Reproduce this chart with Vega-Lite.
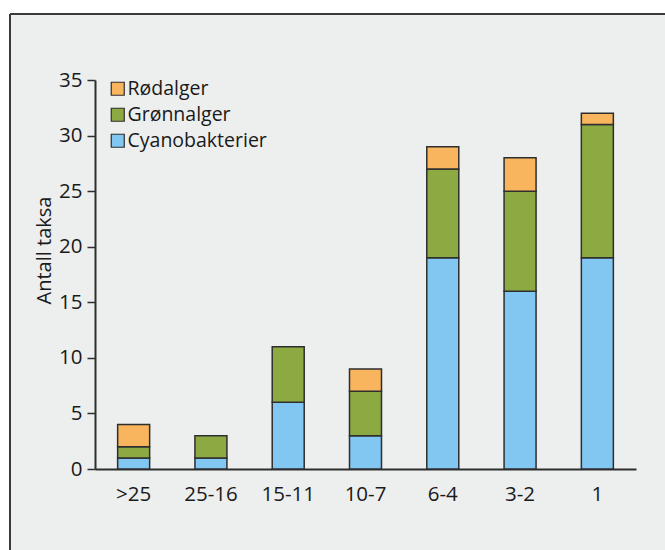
{
  "$schema": "https://vega.github.io/schema/vega-lite/v6.json",
  "width": 655,
  "height": 536,
  "autosize": {"type": "none"},
  "padding": {"left": 10, "top": 14, "right": 0, "bottom": 0},
  "background": "#ffffff",
  "config": {
    "font": "Open Sans",
    "view": {"fill": "#EDEEEE", "stroke": "#3a3a3a", "strokeWidth": 2, "strokeDash": [655, 1191, 536, 0]}
  },
  "data": {
    "values": [
      {"kat": ">25", "gruppe": "Cyanobakterier", "n": 1, "o": 1},
      {"kat": ">25", "gruppe": "Grønnalger", "n": 1, "o": 2},
      {"kat": ">25", "gruppe": "Rødalger", "n": 2, "o": 3},
      {"kat": "25-16", "gruppe": "Cyanobakterier", "n": 1, "o": 1},
      {"kat": "25-16", "gruppe": "Grønnalger", "n": 2, "o": 2},
      {"kat": "25-16", "gruppe": "Rødalger", "n": 0, "o": 3},
      {"kat": "15-11", "gruppe": "Cyanobakterier", "n": 6, "o": 1},
      {"kat": "15-11", "gruppe": "Grønnalger", "n": 5, "o": 2},
      {"kat": "15-11", "gruppe": "Rødalger", "n": 0, "o": 3},
      {"kat": "10-7", "gruppe": "Cyanobakterier", "n": 3, "o": 1},
      {"kat": "10-7", "gruppe": "Grønnalger", "n": 4, "o": 2},
      {"kat": "10-7", "gruppe": "Rødalger", "n": 2, "o": 3},
      {"kat": "6-4", "gruppe": "Cyanobakterier", "n": 19, "o": 1},
      {"kat": "6-4", "gruppe": "Grønnalger", "n": 8, "o": 2},
      {"kat": "6-4", "gruppe": "Rødalger", "n": 2, "o": 3},
      {"kat": "3-2", "gruppe": "Cyanobakterier", "n": 16, "o": 1},
      {"kat": "3-2", "gruppe": "Grønnalger", "n": 9, "o": 2},
      {"kat": "3-2", "gruppe": "Rødalger", "n": 3, "o": 3},
      {"kat": "1", "gruppe": "Cyanobakterier", "n": 19, "o": 1},
      {"kat": "1", "gruppe": "Grønnalger", "n": 12, "o": 2},
      {"kat": "1", "gruppe": "Rødalger", "n": 1, "o": 3}
    ]
  },
  "transform": [{"filter": "datum.n > 0"}],
  "mark": {"type": "bar", "stroke": "#2e2e2e", "strokeWidth": 1.5},
  "encoding": {
    "x": {
      "field": "kat",
      "type": "nominal",
      "sort": [">25", "25-16", "15-11", "10-7", "6-4", "3-2", "1"],
      "scale": {"range": [85, 626], "paddingInner": 0.586, "paddingOuter": 0.293},
      "axis": {
        "title": null,
        "labelAngle": 0,
        "ticks": false,
        "labelFontSize": 20.5,
        "labelColor": "#1a1a1a",
        "labelPadding": 15,
        "domainColor": "#2e2e2e",
        "domainWidth": 2,
        "offset": -81,
        "grid": false
      }
    },
    "y": {
      "field": "n",
      "type": "quantitative",
      "aggregate": "sum",
      "stack": "zero",
      "scale": {"domain": [0, 35], "nice": false, "range": [455, 66]},
      "axis": {
        "title": "Antall taksa",
        "titleFontSize": 20,
        "titleFontWeight": "normal",
        "titleColor": "#1a1a1a",
        "titlePadding": 4,
        "titleY": 236,
        "values": [0, 5, 10, 15, 20, 25, 30, 35],
        "labelFontSize": 20.5,
        "labelColor": "#1a1a1a",
        "labelPadding": 5,
        "tickSize": 8,
        "tickColor": "#2e2e2e",
        "tickWidth": 1.5,
        "domainColor": "#2e2e2e",
        "domainWidth": 2,
        "offset": -85,
        "grid": false
      }
    },
    "color": {
      "field": "gruppe",
      "type": "nominal",
      "scale": {
        "domain": ["Rødalger", "Grønnalger", "Cyanobakterier"],
        "range": ["#F9B55E", "#8DAA42", "#82C6F2"]
      },
      "legend": {
        "title": null,
        "orient": "none",
        "legendX": 98,
        "legendY": 65,
        "symbolType": "square",
        "symbolSize": 169,
        "symbolStrokeColor": "#2e2e2e",
        "symbolStrokeWidth": 1.2,
        "symbolOpacity": 1,
        "labelFontSize": 19.5,
        "labelColor": "#1a1a1a",
        "labelOffset": 0,
        "rowPadding": 5
      }
    },
    "order": {"field": "o", "type": "quantitative"}
  }
}
